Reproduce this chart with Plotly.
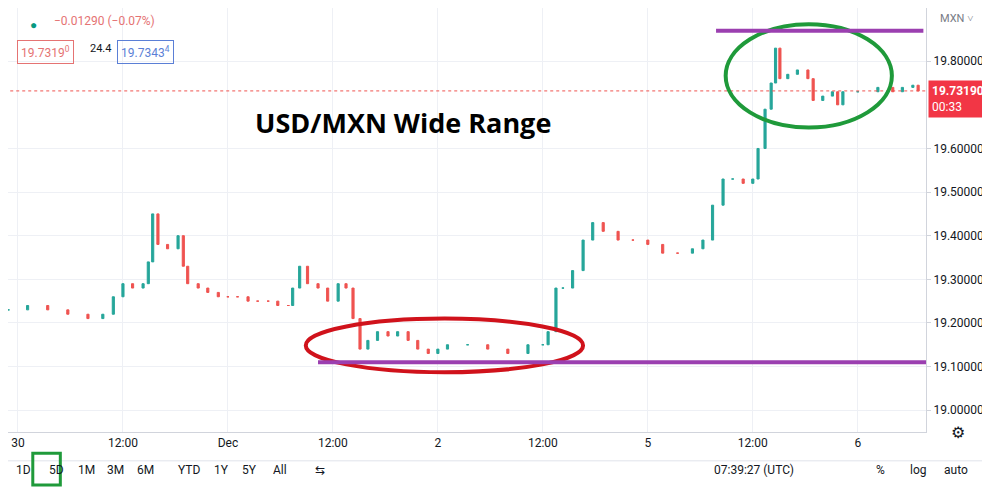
import plotly.graph_objects as go

hours = [-1.1,1.1,3.4,5.7,8,9.7,10.9,12,13.1,14.3,14.9,15.4,16,17.1,18.3,18.9,19.4,20.6,21.7,22.9,24,25.1,26.3,27.4,28.6,29.7,30.9,31.4,32.2,33.1,34.3,35.4,36.6,37.5,38.3,39.1,40,41.1,42.3,43.4,44.6,45.7,46.9,48,49.1,51.4,53.7,56,58.3,60,60.6,61.5,62.3,63.4,64.6,65.7,66.9,68.6,70.3,72,73.7,75.4,77.1,78.3,79.4,80.6,81.7,82.9,84,84.6,85.4,86.1,86.6,87.1,88,89.1,90.3,90.9,92,93.1,93.7,94.3,96,98.3,100,101.1,102.3,102.9]
closes = [19.23,19.24,19.23,19.22,19.21,19.22,19.26,19.29,19.28,19.29,19.34,19.45,19.38,19.37,19.40,19.33,19.29,19.28,19.27,19.26,19.26,19.26,19.25,19.25,19.25,19.24,19.24,19.28,19.33,19.29,19.28,19.25,19.29,19.28,19.21,19.14,19.16,19.18,19.17,19.18,19.16,19.14,19.13,19.14,19.15,19.15,19.14,19.13,19.15,19.15,19.18,19.28,19.28,19.32,19.39,19.43,19.41,19.39,19.39,19.38,19.36,19.36,19.37,19.39,19.47,19.53,19.53,19.52,19.53,19.60,19.69,19.75,19.83,19.76,19.77,19.78,19.76,19.71,19.72,19.73,19.70,19.73,19.73,19.74,19.73,19.74,19.745,19.7319]
tick_vals = [0,12,24,36,48,60,72,84,96]
tick_text = ["30","12:00","Dec","12:00","2","12:00","5","12:00","6"]
y_ticks = [19.0,19.1,19.2,19.3,19.4,19.5,19.6,19.8]
last_price = 19.7319
support, resistance = 19.11, 19.87

opens = [closes[0]] + closes[:-1]
highs = [max(o, c) for o, c in zip(opens, closes)]
lows = [min(o, c) for o, c in zip(opens, closes)]

fig = go.Figure(go.Candlestick(
    x=hours, open=opens, high=highs, low=lows, close=closes,
    increasing=dict(line=dict(color="#26a69a", width=1), fillcolor="#26a69a"),
    decreasing=dict(line=dict(color="#ef5350", width=1), fillcolor="#ef5350"),
    whiskerwidth=0, showlegend=False, hoverinfo="skip"))

shapes = [
    dict(type="line", xref="x", yref="y", x0=-5, x1=110, y0=last_price, y1=last_price,
         line=dict(color="#ef5350", width=1, dash="dot")),
    dict(type="circle", xref="x", yref="y", x0=32.9, x1=64.6, y0=19.087, y1=19.21,
         line=dict(color="#d0121b", width=4)),
    dict(type="circle", xref="x", yref="y", x0=80.9, x1=99.9, y0=19.648, y1=19.885,
         line=dict(color="#1f9a3a", width=4)),
    dict(type="line", xref="x", yref="y", x0=34.3, x1=103.8, y0=support, y1=support,
         line=dict(color="#9b3fb0", width=4)),
    dict(type="line", xref="x", yref="y", x0=79.8, x1=103.5, y0=resistance, y1=resistance,
         line=dict(color="#9b3fb0", width=4)),
    dict(type="line", xref="paper", yref="paper", x0=0, x1=1.08, y0=-0.068, y1=-0.068,
         line=dict(color="#e0e3eb", width=1)),
    dict(type="rect", xref="paper", yref="paper", x0=0.027, x1=0.057, y0=-0.125, y1=-0.05,
         line=dict(color="#1f9a3a", width=3)),
]

font = "Roboto"
ann = [
    dict(text="<b>USD/MXN Wide Range</b>", xref="x", yref="y", x=44, y=19.66, showarrow=False,
         font=dict(size=27, color="#000", family="Open Sans")),
    dict(text="●", xref="paper", yref="paper", x=0.022, y=0.985, showarrow=False,
         font=dict(size=12, color="#089981")),
    dict(text="−0.01290 (−0.07%)", xref="paper", yref="paper", x=0.048, y=0.99, xanchor="left",
         showarrow=False, font=dict(size=12, color="#e57373", family=font)),
    dict(text="19.7319<sup>0</sup>", xref="paper", yref="paper", x=0.01, y=0.925, xanchor="left",
         showarrow=False, bordercolor="#e57373", borderwidth=1, borderpad=3,
         font=dict(size=12, color="#e57373", family=font)),
    dict(text="24.4", xref="paper", yref="paper", x=0.087, y=0.925, xanchor="left",
         showarrow=False, font=dict(size=11, color="#131722", family=font)),
    dict(text="19.7343<sup>4</sup>", xref="paper", yref="paper", x=0.119, y=0.925, xanchor="left",
         showarrow=False, bordercolor="#5b7fd6", borderwidth=1, borderpad=3,
         font=dict(size=12, color="#5b7fd6", family=font)),
    dict(text="MXN ˅", xref="paper", yref="paper", x=1.013, y=0.995, xanchor="left", yanchor="top",
         showarrow=False, font=dict(size=11, color="#787b86", family=font)),
    dict(text="<b>19.73190</b><br>00:33", xref="paper", yref="y", x=1.002, y=last_price - 0.018,
         xanchor="left", align="left", showarrow=False, bgcolor="#f23645", borderpad=3,
         font=dict(size=12, color="white", family=font)),
    dict(text="⚙", xref="paper", yref="paper", x=1.045, y=-0.03, showarrow=False,
         font=dict(size=16, color="#131722")),
]
tb = [("1D", 0.007), ("5D", 0.042), ("1M", 0.074), ("3M", 0.106), ("6M", 0.138), ("YTD", 0.183),
      ("1Y", 0.222), ("5Y", 0.253), ("All", 0.286), ("⇆", 0.34)]
for t, x in tb:
    ann.append(dict(text=t, xref="paper", yref="paper", x=x, y=-0.11, showarrow=False,
                    font=dict(size=12, color="#131722", family=font)))
for t, x in [("07:39:27 (UTC)", 0.858), ("%", 0.958), ("log", 1.003), ("auto", 1.048)]:
    ann.append(dict(text=t, xref="paper", yref="paper", x=x, y=-0.11, showarrow=False,
                    font=dict(size=12, color="#131722", family=font)))

fig.update_layout(
    width=990, height=489, margin=dict(l=0, r=72, t=0, b=65),
    paper_bgcolor="white", plot_bgcolor="white",
    shapes=shapes, annotations=ann,
    xaxis=dict(range=[-1.14, 103.8], tickvals=tick_vals, ticktext=tick_text,
               showgrid=True, gridcolor="#eef0f5", zeroline=False, rangeslider=dict(visible=False),
               tickfont=dict(size=12, color="#131722", family=font), ticks="", showline=True,
               linecolor="#d1d4dc"),
    yaxis=dict(side="right", range=[18.95, 19.922], tickvals=y_ticks, tickformat=".5f",
               showgrid=True, gridcolor="#eef0f5", zeroline=False, showline=True, linecolor="#d1d4dc",
               tickfont=dict(size=12, color="#131722", family=font), ticks="outside",
               ticklen=4, tickcolor="#d1d4dc"),
)
fig.write_html("out.html")
